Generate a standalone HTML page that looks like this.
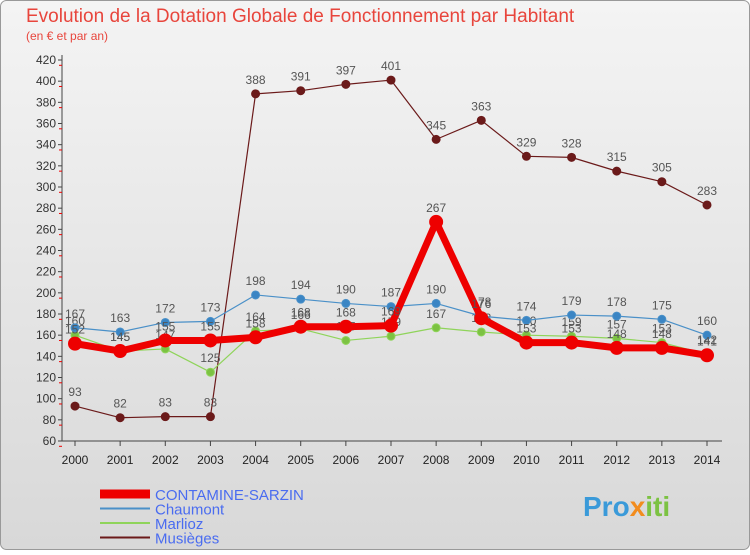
<!DOCTYPE html>
<html><head><meta charset="utf-8"><style>
body{margin:0;background:#fff;font-family:"Liberation Sans",sans-serif}
#wrap{position:relative;width:750px;height:550px}
</style></head><body>
<div id="wrap">
<svg id="svg" width="750" height="550" xmlns="http://www.w3.org/2000/svg">
<defs><linearGradient id="bg" x1="0" y1="0" x2="0" y2="1"><stop offset="0" stop-color="#f4f4f4"/><stop offset="1" stop-color="#d8d8d8"/></linearGradient></defs>
<rect x="0.5" y="0.5" width="749" height="549" rx="6" fill="url(#bg)" stroke="#999"/>
<text x="26" y="22" font-size="19" fill="#e8453c">Evolution de la Dotation Globale de Fonctionnement par Habitant</text>
<text x="26" y="40" font-size="12" fill="#e8453c">(en € et par an)</text>
<g id="axes"></g><g id="series"></g><g id="legend"></g>
<text x="583" y="516" font-size="28" font-weight="bold" fill="#3a9ad9">Pro<tspan fill="#f28c1e">x</tspan><tspan fill="#7cc242">iti</tspan></text>
</svg></div>
<script>
const years=[2000,2001,2002,2003,2004,2005,2006,2007,2008,2009,2010,2011,2012,2013,2014];
const yTicks=[60,80,100,120,140,160,180,200,220,240,260,280,300,320,340,360,380,400,420];
const contamine=[152,145,155,155,158,168,168,169,267,176,153,153,148,148,141];
const chaumont=[167,163,172,173,198,194,190,187,190,178,174,179,178,175,160];
const marlioz=[160,145,147,125,164,166,155,159,167,163,160,159,157,153,142];
const musieges=[93,82,83,83,388,391,397,401,345,363,329,328,315,305,283];
const seriesNames=["CONTAMINE-SARZIN","Chaumont","Marlioz","Musièges"];
const NS="http://www.w3.org/2000/svg";
const xs=i=>75+i*(707-75)/(years.length-1);
const ys=v=>441-(v-60)*(441-60)/360;
function mk(tag,attrs,parent,txt){const e=document.createElementNS(NS,tag);for(const k in attrs)e.setAttribute(k,attrs[k]);if(txt!==undefined)e.textContent=txt;parent.appendChild(e);return e;}
const ax=document.getElementById('axes');
let a=mk('line',{x1:62,y1:55,x2:62,y2:441,stroke:'#444'},ax);


a=mk('line',{x1:62,y1:441,x2:722,y2:441,stroke:'#444'},ax);


yTicks.forEach(v=>{const y=ys(v);
 mk('line',{x1:58,y1:y,x2:62,y2:y,stroke:'#444'},ax);
 mk('line',{x1:59,y1:y+5.3,x2:62,y2:y+5.3,stroke:'#e00'},ax);
 const t=mk('text',{x:56,y:y+4,'font-size':12,fill:'#333','text-anchor':'end'},ax,v);
 
 });
years.forEach((yr,i)=>{const x=xs(i);
 mk('line',{x1:x,y1:441,x2:x,y2:446,stroke:'#444'},ax);
 const t=mk('text',{x:x,y:464,'font-size':12,fill:'#222','text-anchor':'middle'},ax,yr);
 
 });
const sg=document.getElementById('series');
function draw(data,color,w,r,name,fillc){
 const g=mk('g',{},sg);
 
 
 const l=mk('polyline',{points:data.map((v,i)=>xs(i)+','+ys(v)).join(' '),fill:'none',stroke:color,'stroke-width':w,'stroke-linejoin':'round'},g);
 
 
 data.forEach((v,i)=>{const c=mk('circle',{cx:xs(i),cy:ys(v),r:r,fill:fillc,stroke:color,'stroke-width':1},g);
  
  
  const t=mk('text',{x:xs(i),y:ys(v)-10,'font-size':12,fill:'#555','text-anchor':'middle'},g,v);
  
  });
}
draw(musieges,'#6b1a1a',1.2,4,'musieges','#6b1a1a');
draw(marlioz,'#8fd45a',1.2,4,'marlioz','#7cc242');
draw(chaumont,'#4a90c8',1.2,4,'chaumont','#3a85c4');
draw(contamine,'#ee0000',7,6.5,'contamine-sarzin','#ee0000');
const lg=document.getElementById('legend');
const cols=['#ee0000','#4a90c8','#8fd45a','#6b1a1a'],wid=[9,2,2,2];
seriesNames.forEach((n,i)=>{const y=494+i*14.5;
 const g=mk('g',{},lg);
 
 
 mk('line',{x1:100,y1:y,x2:150,y2:y,stroke:cols[i],'stroke-width':wid[i]},g);
 mk('text',{x:155,y:y+6,'font-size':15,fill:'#4a6cf0'},g,n);});
</script></body></html>
